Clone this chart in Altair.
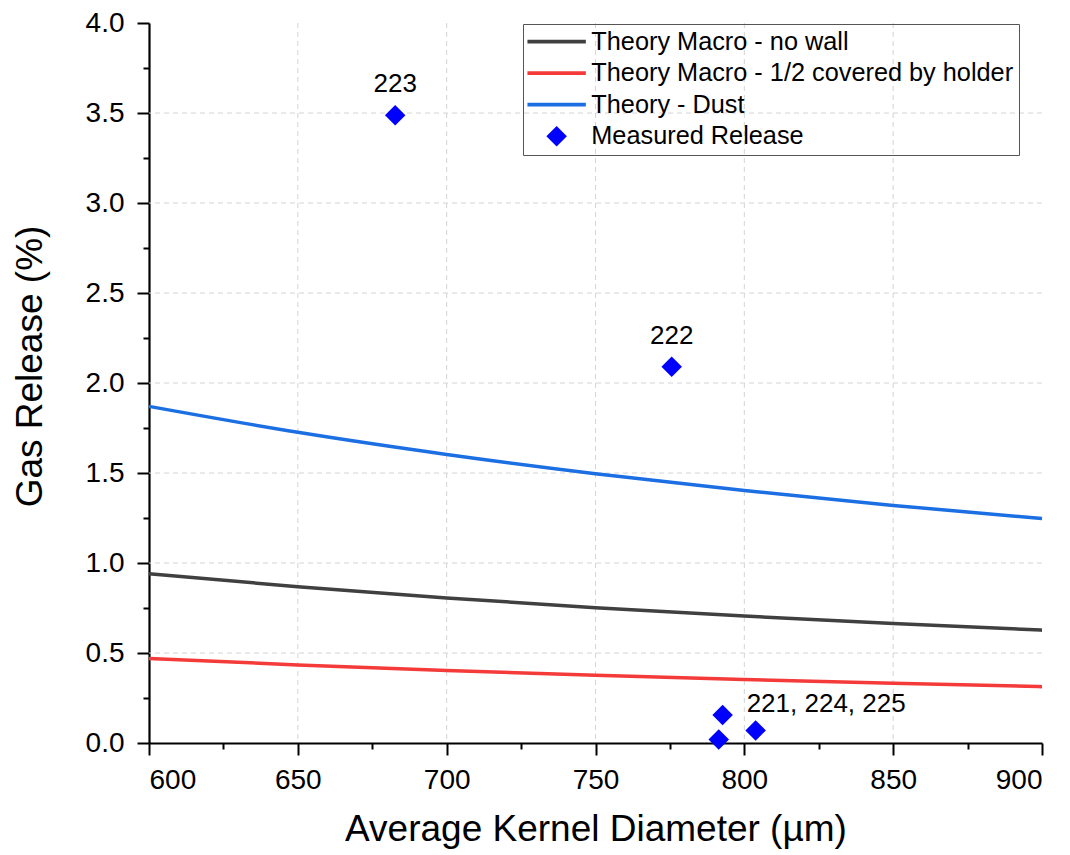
import altair as alt
import pandas as pd

# Theory curves, every 50 µm
diam = [600, 650, 700, 750, 800, 850, 900]
macro_no_wall = [0.94, 0.868, 0.806, 0.752, 0.705, 0.664, 0.627]
macro_half = [0.47, 0.434, 0.403, 0.376, 0.353, 0.332, 0.313]
dust = [1.87, 1.726, 1.603, 1.496, 1.403, 1.32, 1.247]

# Measured points
meas_x = [682.7, 775.6, 792.7, 791.4, 803.8]
meas_y = [3.488, 2.09, 0.155, 0.02, 0.07]
meas_lbl = ["223", "222", "", "", "221, 224, 225"]

series_names = ["Theory Macro - no wall", "Theory Macro - 1/2 covered by holder",
                "Theory - Dust", "Measured Release"]
line_colors = ["#404040", "#f53a3a", "#1c6fe3"]
point_color = "#0000ff"

# tick and grid values
x_ticks = list(range(600, 901, 25))
y_ticks = [i * 0.25 for i in range(17)]
x_grid = [650, 700, 750, 800, 850]
y_grid = [0.5, 1.0, 1.5, 2.0, 2.5, 3.0, 3.5]

FONT = "Liberation Sans"

rows = []
for name, vals in zip(series_names[:3], [macro_no_wall, macro_half, dust]):
    for d, v in zip(diam, vals):
        rows.append({"d": d, "g": v, "series": name})
lines_df = pd.DataFrame(rows)

pts_df = pd.DataFrame({"d": meas_x, "g": meas_y, "lbl": meas_lbl,
                       "series": ["Measured Release"] * len(meas_x)})
top_lbl = pts_df[pts_df["lbl"].isin(["223", "222"])]
cluster_lbl = pts_df[pts_df["lbl"] == "221, 224, 225"]

x_scale = alt.Scale(domain=[600, 900], nice=False, zero=False)
y_scale = alt.Scale(domain=[0, 4], nice=False)

x_axis = alt.Axis(
    values=x_ticks, title="Average Kernel Diameter (µm)", grid=False,
    labelExpr="datum.value % 50 === 0 ? datum.label : ''",
    tickSize={"condition": {"test": "datum.value % 50 === 0", "value": 12}, "value": 6},
    labelPadding=11, titleBaseline="alphabetic", titleY=97,
)
y_axis = alt.Axis(
    values=y_ticks, title="Gas Release (%)", format=".1f", grid=False,
    labelExpr="datum.value % 0.5 === 0 ? datum.label : ''",
    tickSize={"condition": {"test": "datum.value % 0.5 === 0", "value": 12}, "value": 6},
    labelPadding=13, titleBaseline="alphabetic", titleX=-108, titleY=343,
)

grid_style = dict(color="#d4d4d4", strokeDash=[5, 4], strokeWidth=1)
vgrid = alt.Chart(pd.DataFrame({"d": x_grid})).mark_rule(**grid_style).encode(
    x=alt.X("d:Q", scale=x_scale, axis=x_axis))
hgrid = alt.Chart(pd.DataFrame({"g": y_grid})).mark_rule(**grid_style).encode(
    y=alt.Y("g:Q", scale=y_scale, axis=y_axis))

lines = alt.Chart(lines_df).mark_line(strokeWidth=3.5, interpolate="monotone").encode(
    x=alt.X("d:Q", scale=x_scale, axis=x_axis),
    y=alt.Y("g:Q", scale=y_scale, axis=y_axis),
    color=alt.Color("series:N", scale=alt.Scale(domain=series_names[:3], range=line_colors), legend=None),
    detail="series:N",
)

line_path = "M-2.85,-0.19L2.85,-0.19L2.85,0.19L-2.85,0.19Z"
legend = alt.Legend(
    title=None, orient="none", legendX=374, legendY=1,
    labelFont=FONT, labelFontSize=25.3, labelColor="black",
    strokeColor="#555555", padding=5, rowPadding=5.5,
    symbolSize=420, symbolStrokeWidth=0, symbolOffset=16, labelOffset=22,
    labelLimit=600,
)

points = alt.Chart(pts_df).mark_point(filled=True, size=420, opacity=1, strokeWidth=0).encode(
    x=alt.X("d:Q", scale=x_scale),
    y=alt.Y("g:Q", scale=y_scale),
    fill=alt.Fill("series:N", scale=alt.Scale(domain=series_names,
                  range=line_colors + [point_color]), legend=legend),
    shape=alt.Shape("series:N", scale=alt.Scale(domain=series_names,
                    range=[line_path, line_path, line_path, "diamond"]), legend=legend),
)

labels_top = alt.Chart(top_lbl).mark_text(font=FONT, fontSize=26, color="black",
                                          align="center", baseline="middle", dy=-31).encode(
    x=alt.X("d:Q", scale=x_scale), y=alt.Y("g:Q", scale=y_scale), text="lbl:N")

labels_cluster = alt.Chart(cluster_lbl).mark_text(font=FONT, fontSize=26, color="black",
                                                  align="left", baseline="middle", dx=-9, dy=-26).encode(
    x=alt.X("d:Q", scale=x_scale), y=alt.Y("g:Q", scale=y_scale), text="lbl:N")

chart = alt.layer(vgrid, hgrid, lines, points, labels_top, labels_cluster).properties(
    width=893, height=720,
    autosize=alt.AutoSizeParams(type="none"),
    padding={"left": 141, "top": 15, "right": 20, "bottom": 110},
).configure_view(stroke=None).configure_axis(
    labelFont=FONT, titleFont=FONT, labelFontSize=28, titleFontSize=37,
    labelColor="black", titleColor="black", titleFontWeight="normal",
    domainColor="black", domainWidth=2.2, tickColor="black", tickWidth=2,
)

chart.save("out.html", embed_options={"renderer": "svg", "actions": False})
